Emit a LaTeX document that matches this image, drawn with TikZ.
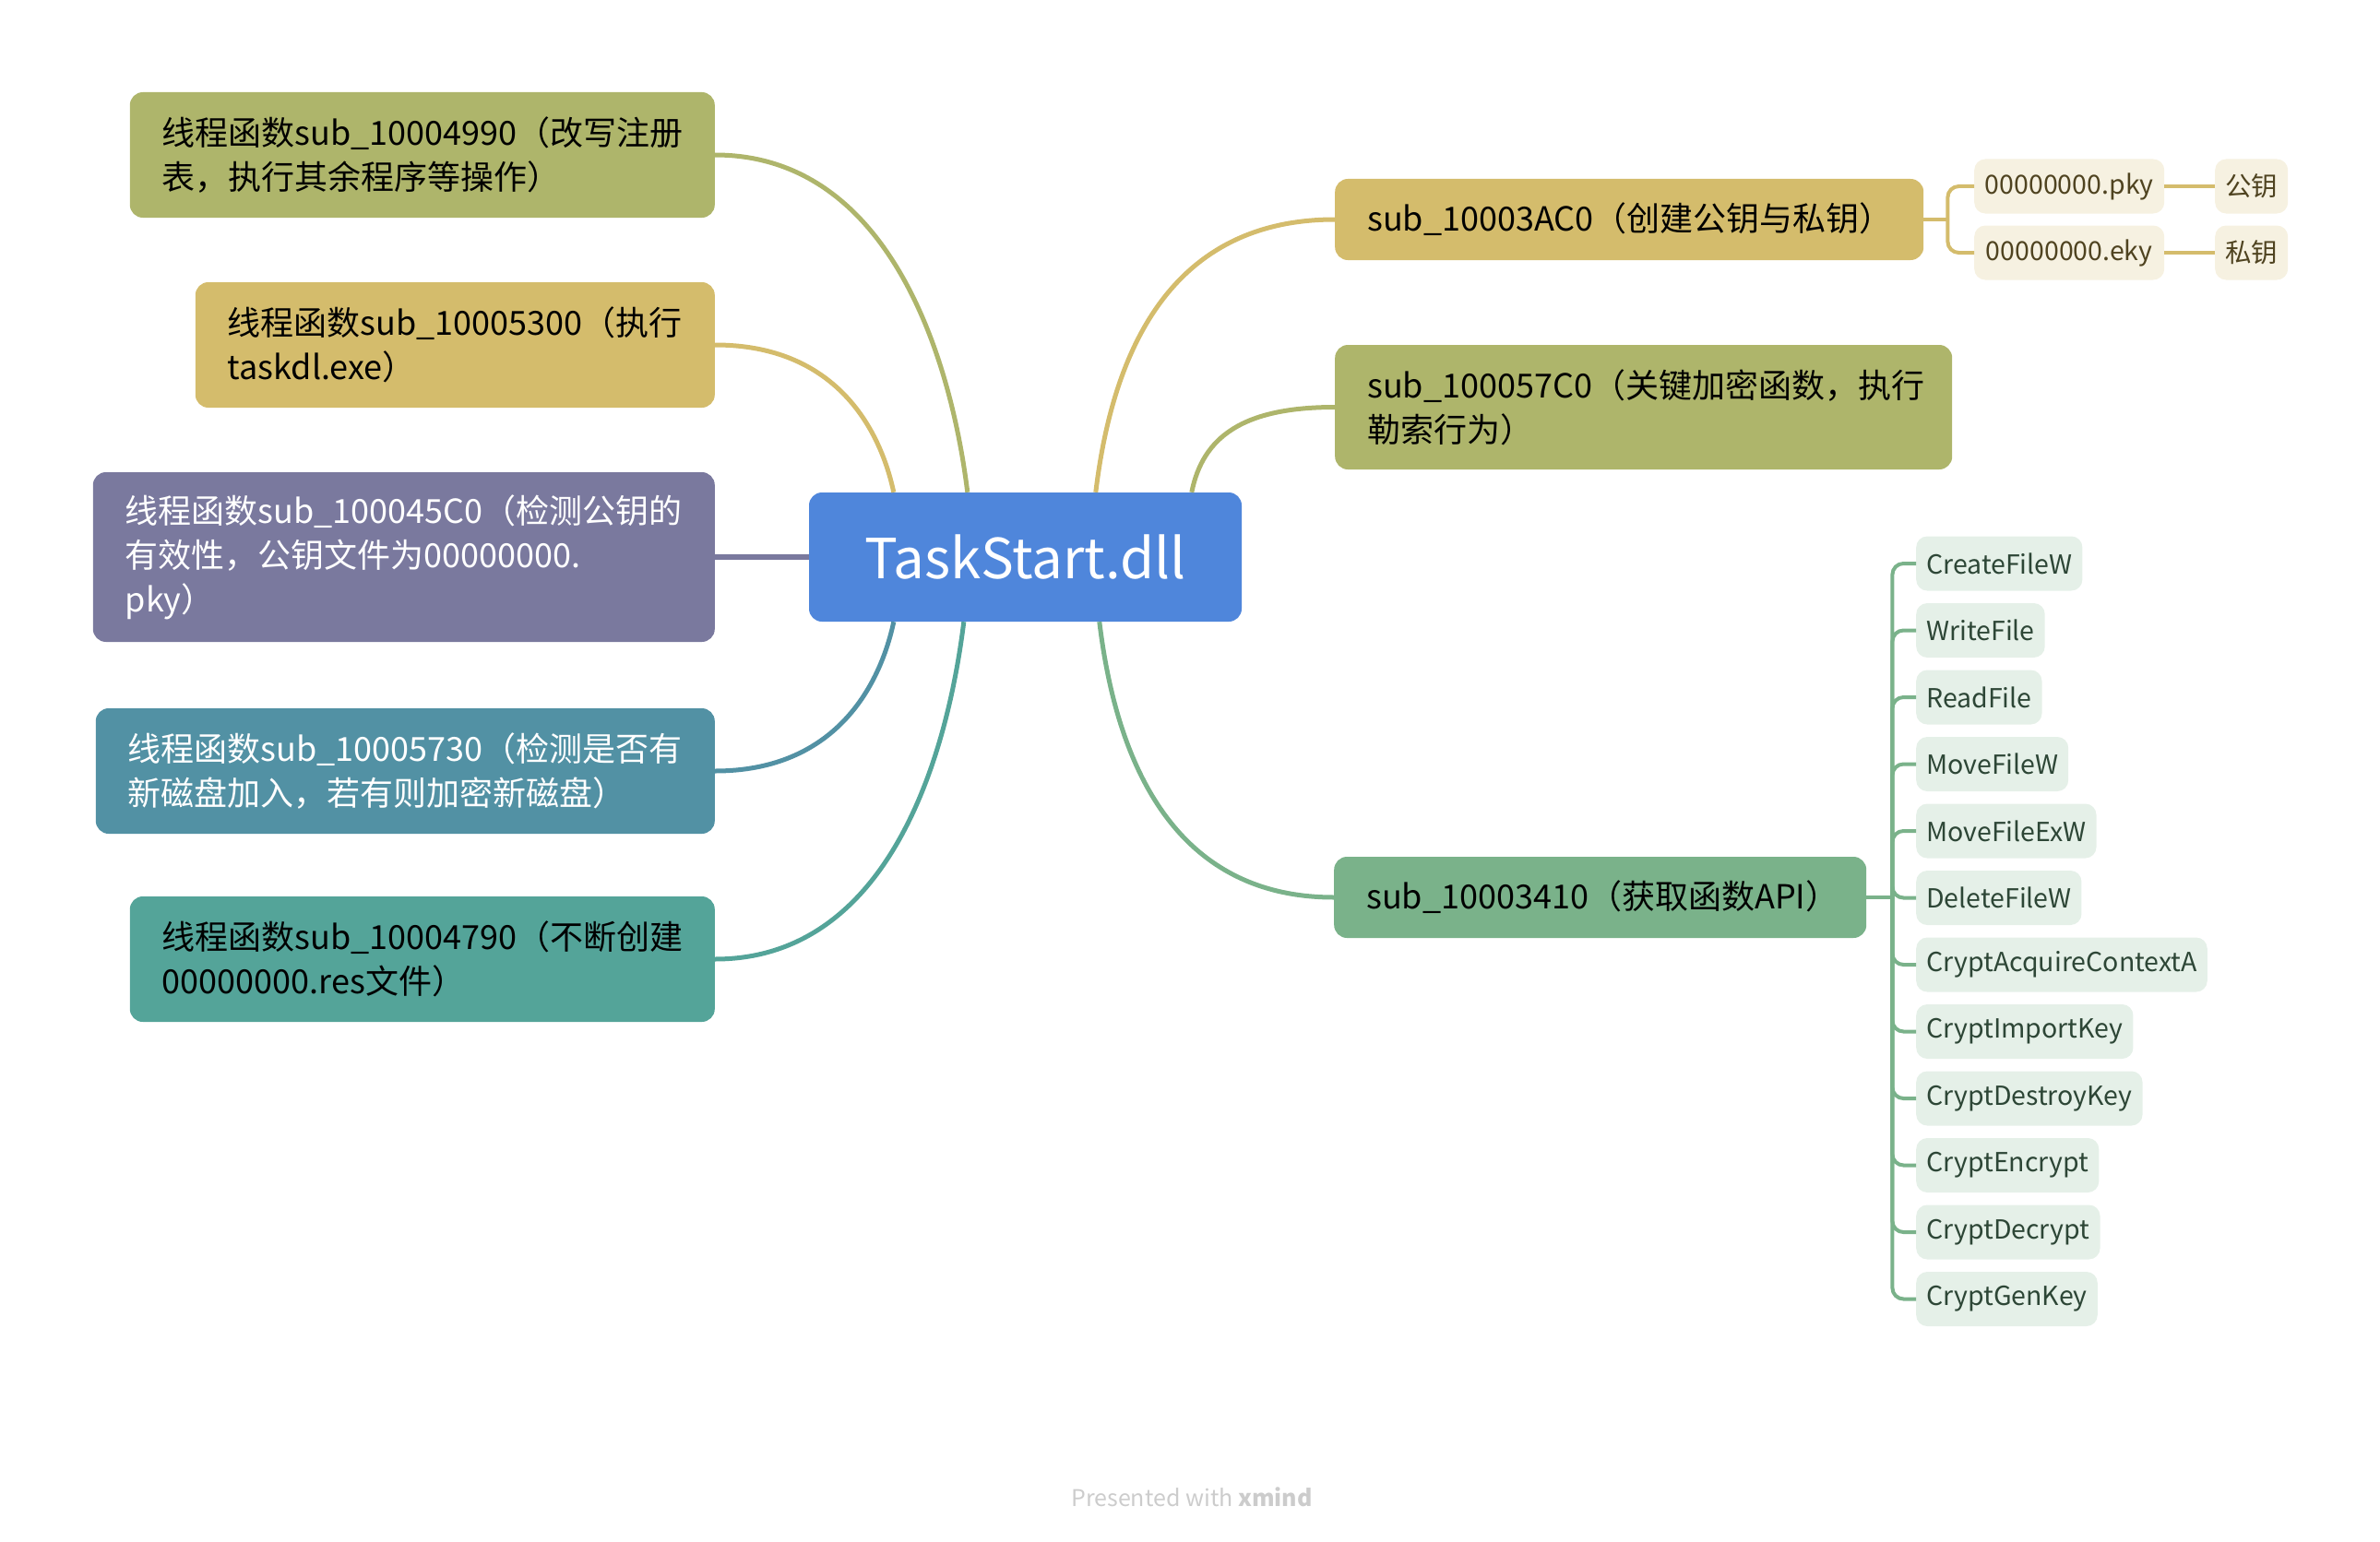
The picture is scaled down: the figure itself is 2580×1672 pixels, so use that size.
\documentclass[tikz,border=0pt]{standalone}
\usepackage{fontspec}
\setmainfont{Noto Sans CJK SC}
\usetikzlibrary{calc}
\definecolor{cblue}{HTML}{4F86DB}
\definecolor{colive}{HTML}{AEB56B}
\definecolor{ctan}{HTML}{D4BC6C}
\definecolor{cpurple}{HTML}{7A799E}
\definecolor{csteel}{HTML}{5291A4}
\definecolor{cteal}{HTML}{54A499}
\definecolor{cgreen}{HTML}{7AB28A}
\definecolor{ltan}{HTML}{F6F1E1}
\definecolor{dtan}{HTML}{4F4320}
\definecolor{lgreen}{HTML}{E5F0E8}
\definecolor{dgreen}{HTML}{2D4636}
\definecolor{cfoot}{HTML}{CCCCCC}
\begin{document}
\begin{tikzpicture}[x=1pt,y=-1pt]
 \tikzset{
  topic/.style={rounded corners=14, inner xsep=35, inner ysep=0, align=left, font=\fontsize{36}{48}\selectfont},
  leaf/.style={rounded corners=12, inner xsep=11, inner ysep=0, minimum height=59, font=\fontsize{28.5}{36}\selectfont},
  link/.style={line width=5},
  twig/.style={line width=4, rounded corners=12}}
 \useasboundingbox (0,0) rectangle (2580,1672);
 \node[fill=cblue, rounded corners=14, minimum width=469, minimum height=140, text=white, font=\fontsize{60}{72}\selectfont](c) at (1111.5,604){TaskStart.dll};
 \node[topic, fill=colive, minimum height=136, text width=564, anchor=east](b1) at (775,168){线程函数sub\_10004990（改写注册\\表，执行其余程序等操作）};
 \node[topic, fill=ctan, minimum height=136, text width=493, anchor=east](b2) at (775,374){线程函数sub\_10005300（执行\\taskdl.exe）};
 \node[topic, fill=cpurple, text=white, minimum height=184, text width=604, anchor=east](b3) at (775,604){线程函数sub\_100045C0（检测公钥的\\有效性，公钥文件为00000000.\\pky）};
 \node[topic, fill=csteel, text=white, minimum height=136, text width=601, anchor=east](b4) at (775,836){线程函数sub\_10005730（检测是否有\\新磁盘加入，若有则加密新磁盘）};
 \node[topic, fill=cteal, minimum height=136, text width=564, anchor=east](b5) at (775,1040){线程函数sub\_10004790（不断创建\\00000000.res文件）};
 \node[topic, fill=ctan, minimum height=88, text width=568, anchor=west](ac0) at (1447,238){sub\_10003AC0（创建公钥与私钥）};
 \node[topic, fill=colive, minimum height=135, text width=599, anchor=west](k) at (1447,441.5){sub\_100057C0（关键加密函数，执行\\勒索行为）};
 \node[topic, fill=cgreen, minimum height=88, text width=507, anchor=west](api) at (1446,973){sub\_10003410（获取函数API）};
 \node[leaf, fill=ltan, text=dtan, minimum width=206, anchor=west](p) at (2140,202){00000000.pky};
 \node[leaf, fill=ltan, text=dtan, minimum width=206, anchor=west](q) at (2140,274){00000000.eky};
 \node[leaf, fill=ltan, text=dtan, minimum width=77, anchor=west](gp) at (2401,202){公钥};
 \node[leaf, fill=ltan, text=dtan, minimum width=77, anchor=west](gq) at (2401,274){私钥};
 \foreach \n [count=\i] in {CreateFileW,WriteFile,ReadFile,MoveFileW,MoveFileExW,DeleteFileW,CryptAcquireContextA,CryptImportKey,CryptDestroyKey,CryptEncrypt,CryptDecrypt,CryptGenKey}
  \node[leaf, fill=lgreen, text=dgreen, anchor=west](a\i) at (2077,538.5+72.5*\i){\n};
 \node[text=cfoot, font=\fontsize{25}{30}\selectfont](ft) at (1292,1623){Presented with \textbf{xmind}};
 \draw[link, colive](b1.east) .. controls +(185,0) and +(-19,-154) .. ($(c.north west)+(172,0)$);
 \draw[link, ctan](b2.east) .. controls +(130,0) and +(-15,-70) .. ($(c.north west)+(92,0)$);
 \draw[link, cpurple, line width=6](b3.east)--(c.west);
 \draw[link, csteel](b4.east) .. controls +(130,0) and +(-15,70) .. ($(c.south west)+(92,0)$);
 \draw[link, cteal](b5.east) .. controls +(185,0) and +(-19,154) .. ($(c.south west)+(168,0)$);
 \draw[link, ctan]($(c.north west)+(311,0)$) .. controls +(18,-150) and +(-180,0) .. (ac0.west);
 \draw[link, colive]($(c.north west)+(415,0)$) .. controls +(12,-60) and +(-100,0) .. (k.west);
 \draw[link, cgreen]($(c.south west)+(315,0)$) .. controls +(18,150) and +(-175,0) .. (api.west);
 \coordinate(acj) at ($(ac0.east)+(26,0)$);
 \coordinate(apij) at ($(api.east)+(28,0)$);
 \draw[twig, ctan](ac0.east)--(acj);
 \draw[twig, ctan](acj)|-(p.west);
 \draw[twig, ctan](acj)|-(q.west);
 \draw[twig, ctan](p)--(gp);
 \draw[twig, ctan](q)--(gq);
 \draw[twig, cgreen](api.east)--(apij);
 \foreach \i in {1,...,12}
  \draw[twig, cgreen](apij)|-(a\i.west);
\end{tikzpicture}
\end{document}
